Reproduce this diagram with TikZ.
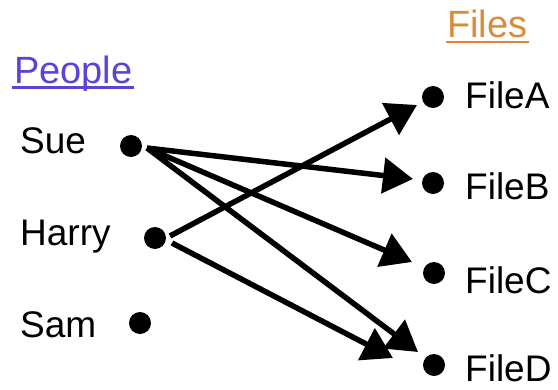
\documentclass[tikz,border=0pt]{standalone}
\usepackage{fontspec}
\setmainfont{Liberation Sans}
\usetikzlibrary{arrows.meta}
\definecolor{peoplecol}{RGB}{92,66,214}
\definecolor{filescol}{RGB}{217,139,58}
\begin{document}
\begin{tikzpicture}[x=1pt,y=-1pt,
  lbl/.style={anchor=base west,inner sep=0pt,font=\fontsize{37}{40}\selectfont},
  hdr/.style={anchor=base west,inner sep=0pt,font=\fontsize{38}{42}\selectfont},
  dot/.style={circle,fill=black,inner sep=0pt,minimum size=22pt},
  arr/.style={line width=5.5pt,-{Triangle[length=30pt,width=35pt]}},
  uline/.style={line width=2.5pt}]
\useasboundingbox (0,0) rectangle (558,389);
% headers
\node[hdr,text=peoplecol] (people) at (14,83) {People};
\node[hdr,text=filescol] (files) at (447,37) {Files};
\draw[uline,peoplecol] ([shift={(-2pt,-4.5pt)}]people.base west) -- ([shift={(1pt,-4.5pt)}]people.base east);
\draw[uline,filescol] ([shift={(-1pt,-5pt)}]files.base west) -- ([shift={(1pt,-5pt)}]files.base east);
% people
\node[lbl] (suet) at (20,153) {Sue};
\node[lbl] (harryt) at (20,245) {Harry};
\node[lbl] (samt) at (20,337) {Sam};
\node[dot] (sue) at (131,146) {};
\node[dot] (harry) at (155,238) {};
\node[dot] (sam) at (140,323) {};
% files
\node[dot] (fa) at (433,97) {};
\node[dot] (fb) at (433,183) {};
\node[dot] (fc) at (434,273) {};
\node[dot] (fd) at (434,365) {};
\node[lbl] (fat) at (465,108) {FileA};
\node[lbl] (fbt) at (465,199) {FileB};
\node[lbl] (fct) at (465,293) {FileC};
\node[lbl,text depth=0pt] (fdt) at (465,381) {FileD};
% connectors
\draw[arr] ([shift={(16pt,-2pt)}]sue.center) -- ([shift={(-20pt,4pt)}]fb.center);
\draw[arr] ([shift={(16pt,-2pt)}]sue.center) -- ([shift={(-22pt,11pt)}]fc.center);
\draw[arr] ([shift={(16pt,-2pt)}]sue.center) -- ([shift={(-16pt,13pt)}]fd.center);
\draw[arr] ([shift={(15pt,2pt)}]harry.center) -- ([shift={(-16pt,-8pt)}]fa.center);
\draw[arr] ([shift={(17pt,-5pt)}]harry.center) -- ([shift={(-41pt,7pt)}]fd.center);
\end{tikzpicture}
\end{document}
